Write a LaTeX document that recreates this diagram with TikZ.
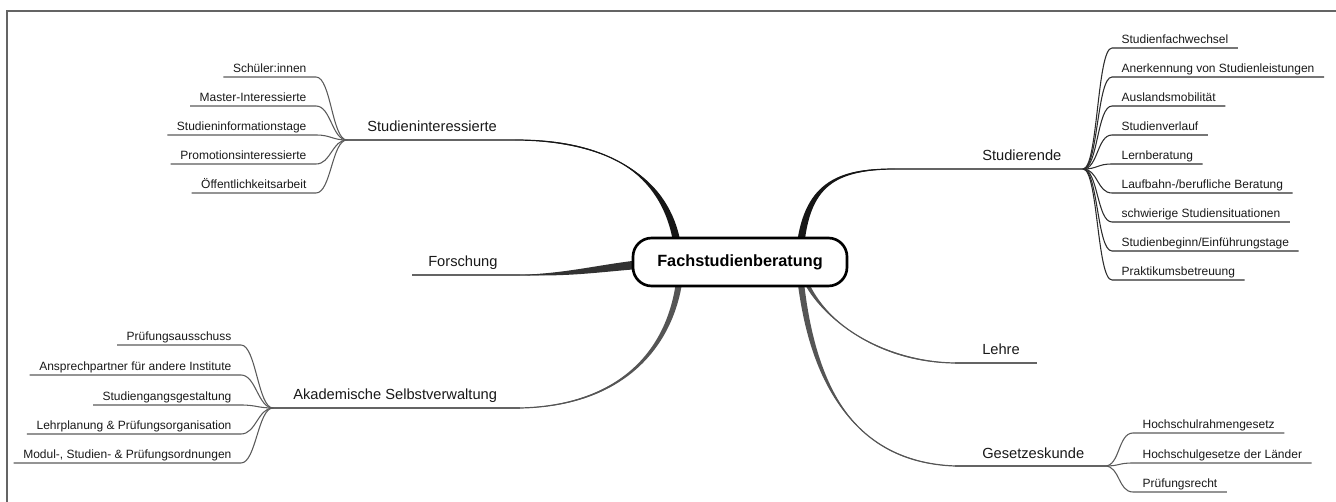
\documentclass[tikz,border=0pt]{standalone}
\usepackage{fontspec}
\setmainfont{Liberation Sans}
\usetikzlibrary{backgrounds}

\definecolor{branchblack}{RGB}{22,22,22}
\definecolor{branchdark}{RGB}{50,50,50}
\definecolor{branchgray}{RGB}{85,85,85}
\definecolor{linegray}{RGB}{100,100,100}
\definecolor{twiggray}{RGB}{90,90,90}
\definecolor{twigdark}{RGB}{45,45,45}

\tikzset{every picture/.style={line width=0.75pt}}
\tikzset{
  hubbox/.style={draw, line width=2pt, rounded corners=14pt, fill=white, minimum width=160.5pt, minimum height=36pt, inner sep=0pt, font=\fontsize{12.2}{14}\selectfont\bfseries},
  branchtext/.style={anchor=base west, inner sep=0pt, text=black!90, font=\fontsize{11}{13}\selectfont},
  leaftext/.style={inner xsep=7pt, inner ysep=1.5pt, text height=7pt, text depth=2pt, text=black!90, font=\fontsize{9}{11}\selectfont},
  trunk/.style={color=linegray, line width=1.1pt},
  twig/.style={color=twiggray, line width=0.8pt},
}

% tapered main branch: colour, half width, shift angle at root, shift angle at control 2, root, control 1, control 2, end
\newcommand{\taper}[8]{%
  \fill [#1] ([shift={({#3}:{#2})}]#5) .. controls ([shift={({#3}:{0.85*#2})}]#6) and ([shift={({#4}:{0.45*#2})}]#7) .. (#8)
    .. controls ([shift={({#4}:{-0.45*#2})}]#7) and ([shift={({#3}:{-0.85*#2})}]#6) .. ([shift={({#3}:{-#2})}]#5) -- cycle;
  \draw [#1, line width=0.9pt] (#5) .. controls (#6) and (#7) .. (#8);}

\begin{document}
\begin{tikzpicture}[x=0.75pt,y=0.75pt,yscale=-1,xscale=1]
\useasboundingbox (0,0) rectangle (1336,502);
\clip (0,0) rectangle (1336,502);

%Frame
\draw [color=linegray, line width=1.2pt] (7,520) -- (7,11) -- (1350,11) ;

%Centre node
\node [hubbox] (fsb) at (740,262) {Fachstudienberatung};

%Branch roots (inside the centre node) and branch ends
\coordinate (si-root) at (678,250);
\coordinate (sd-root) at (800,250);
\coordinate (fo-root) at (645,264);
\coordinate (ak-root) at (680,275);
\coordinate (le-root) at (803,275);
\coordinate (ge-root) at (800,275);
\coordinate (si-end) at (515,140);
\coordinate (sd-end) at (895,169);
\coordinate (fo-end) at (520,275);
\coordinate (ak-end) at (520,408);
\coordinate (le-end) at (955,363);
\coordinate (ge-end) at (955,466);

%Hubs and free ends of the underlines
\coordinate (si-hub) at (347,140);
\coordinate (sd-hub) at (1083,169);
\coordinate (fo-tip) at (412,275);
\coordinate (ak-hub) at (273,408);
\coordinate (le-tip) at (1037,363);
\coordinate (ge-hub) at (1105,466);

\begin{pgfonlayer}{background}
%Curve Lines
\taper{branchblack}{3.8}{0}{90}{si-root}{668,170}{600,140}{si-end}
\taper{branchblack}{3.8}{0}{90}{sd-root}{806,185}{835,169}{sd-end}
\taper{branchdark}{4.5}{90}{90}{fo-root}{600,268}{570,275}{fo-end}
\taper{branchgray}{3.2}{0}{90}{ak-root}{672,350}{620,406}{ak-end}
\taper{branchgray}{3.2}{20}{90}{le-root}{820,320}{880,362}{le-end}
\taper{branchgray}{3.2}{0}{90}{ge-root}{810,370}{845,462}{ge-end}
\end{pgfonlayer}

%Straight Lines
\draw [trunk] (si-hub) -- (si-end) ;
\draw [trunk] (sd-end) -- (sd-hub) ;
\draw [trunk] (fo-tip) -- (fo-end) ;
\draw [trunk] (ak-hub) -- (ak-end) ;
\draw [trunk] (le-end) -- (le-tip) ;
\draw [trunk] (ge-end) -- (ge-hub) ;

% Text Node
\node [branchtext] (si) at (367,132) {Studieninteressierte};
\node [branchtext] (sd) at (982,161) {Studierende};
\node [branchtext] (fo) at (428,267) {Forschung};
\node [branchtext] (ak) at (293,400) {Akademische Selbstverwaltung};
\node [branchtext] (le) at (982,355) {Lehre};
\node [branchtext] (ge) at (982,459) {Gesetzeskunde};

%Studieninteressierte
\node [leaftext, anchor=south east] (si1) at (316,77) {Schüler:innen};
\node [leaftext, anchor=south east] (si2) at (316,106) {Master-Interessierte};
\node [leaftext, anchor=south east] (si3) at (316,135) {Studieninformationstage};
\node [leaftext, anchor=south east] (si4) at (316,164) {Promotionsinteressierte};
\node [leaftext, anchor=south east] (si5) at (316,193) {Öffentlichkeitsarbeit};
\draw [twig] (si-hub) .. controls +(-15,0) and +(15,0) .. (si1.south east) -- (si1.south west) ;
\draw [twig] (si-hub) .. controls +(-15,0) and +(15,0) .. (si2.south east) -- (si2.south west) ;
\draw [twig] (si-hub) .. controls +(-15,0) and +(15,0) .. (si3.south east) -- (si3.south west) ;
\draw [twig] (si-hub) .. controls +(-15,0) and +(15,0) .. (si4.south east) -- (si4.south west) ;
\draw [twig] (si-hub) .. controls +(-15,0) and +(15,0) .. (si5.south east) -- (si5.south west) ;

%Studierende
\node [leaftext, anchor=south west] (sd1) at (1112,48) {Studienfachwechsel};
\node [leaftext, anchor=south west] (sd2) at (1112,77) {Anerkennung von Studienleistungen};
\node [leaftext, anchor=south west] (sd3) at (1112,106) {Auslandsmobilität};
\node [leaftext, anchor=south west] (sd4) at (1112,135) {Studienverlauf};
\node [leaftext, anchor=south west] (sd5) at (1112,164) {Lernberatung};
\node [leaftext, anchor=south west] (sd6) at (1112,193) {Laufbahn-/berufliche Beratung};
\node [leaftext, anchor=south west] (sd7) at (1112,222) {schwierige Studiensituationen};
\node [leaftext, anchor=south west] (sd8) at (1112,251) {Studienbeginn/Einführungstage};
\node [leaftext, anchor=south west] (sd9) at (1112,280) {Praktikumsbetreuung};
\draw [twig, color=twigdark] (sd-hub) .. controls +(15,0) and +(-15,0) .. (sd1.south west) -- (sd1.south east) ;
\draw [twig, color=twigdark] (sd-hub) .. controls +(15,0) and +(-15,0) .. (sd2.south west) -- (sd2.south east) ;
\draw [twig, color=twigdark] (sd-hub) .. controls +(15,0) and +(-15,0) .. (sd3.south west) -- (sd3.south east) ;
\draw [twig, color=twigdark] (sd-hub) .. controls +(15,0) and +(-15,0) .. (sd4.south west) -- (sd4.south east) ;
\draw [twig, color=twigdark] (sd-hub) .. controls +(15,0) and +(-15,0) .. (sd5.south west) -- (sd5.south east) ;
\draw [twig, color=twigdark] (sd-hub) .. controls +(15,0) and +(-15,0) .. (sd6.south west) -- (sd6.south east) ;
\draw [twig, color=twigdark] (sd-hub) .. controls +(15,0) and +(-15,0) .. (sd7.south west) -- (sd7.south east) ;
\draw [twig, color=twigdark] (sd-hub) .. controls +(15,0) and +(-15,0) .. (sd8.south west) -- (sd8.south east) ;
\draw [twig, color=twigdark] (sd-hub) .. controls +(15,0) and +(-15,0) .. (sd9.south west) -- (sd9.south east) ;

%Akademische Selbstverwaltung
\node [leaftext, anchor=south east] (ak1) at (241,345) {Prüfungsausschuss};
\node [leaftext, anchor=south east] (ak2) at (241,375) {Ansprechpartner für andere Institute};
\node [leaftext, anchor=south east] (ak3) at (241,405) {Studiengangsgestaltung};
\node [leaftext, anchor=south east] (ak4) at (241,434) {Lehrplanung \& Prüfungsorganisation};
\node [leaftext, anchor=south east] (ak5) at (241,463) {Modul-, Studien- \& Prüfungsordnungen};
\draw [twig] (ak-hub) .. controls +(-15,0) and +(15,0) .. (ak1.south east) -- (ak1.south west) ;
\draw [twig] (ak-hub) .. controls +(-15,0) and +(15,0) .. (ak2.south east) -- (ak2.south west) ;
\draw [twig] (ak-hub) .. controls +(-15,0) and +(15,0) .. (ak3.south east) -- (ak3.south west) ;
\draw [twig] (ak-hub) .. controls +(-15,0) and +(15,0) .. (ak4.south east) -- (ak4.south west) ;
\draw [twig] (ak-hub) .. controls +(-15,0) and +(15,0) .. (ak5.south east) -- (ak5.south west) ;

%Gesetzeskunde
\node [leaftext, anchor=south west] (ge1) at (1133,433) {Hochschulrahmengesetz};
\node [leaftext, anchor=south west] (ge2) at (1133,463) {Hochschulgesetze der Länder};
\node [leaftext, anchor=south west] (ge3) at (1133,492) {Prüfungsrecht};
\draw [twig] (ge-hub) .. controls +(15,0) and +(-15,0) .. (ge1.south west) -- (ge1.south east) ;
\draw [twig] (ge-hub) .. controls +(15,0) and +(-15,0) .. (ge2.south west) -- (ge2.south east) ;
\draw [twig] (ge-hub) .. controls +(15,0) and +(-15,0) .. (ge3.south west) -- (ge3.south east) ;

\end{tikzpicture}
\end{document}
